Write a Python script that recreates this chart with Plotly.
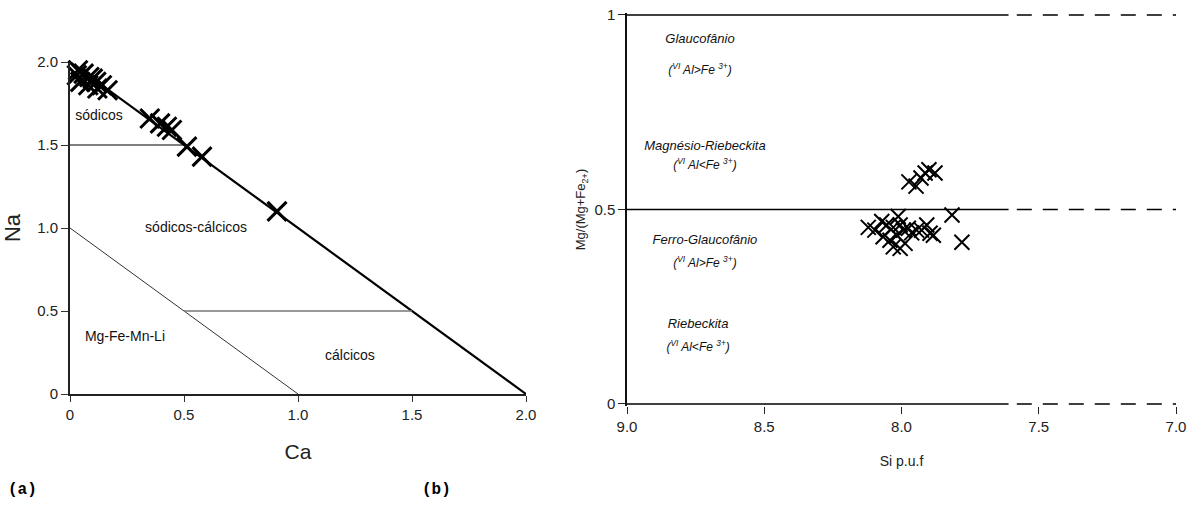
import plotly.graph_objects as go

W, H = 1197, 509

# ---- (a) Na vs Ca classification ----
ca_pts = [0.035, 0.06, 0.085, 0.115, 0.14, 0.165, 0.045, 0.08, 0.12, 0.03, 0.10,
          0.35, 0.395, 0.425, 0.447, 0.513, 0.579, 0.908]
na_pts = [1.95, 1.93, 1.91, 1.88, 1.86, 1.83, 1.88, 1.86, 1.84, 1.92, 1.90,
          1.66, 1.63, 1.61, 1.59, 1.49, 1.43, 1.10]

# field boundaries (Ca, Na)
diag_ca, diag_na = [0, 2], [2, 0]
sod_ca, sod_na = [0, 0.5], [1.5, 1.5]
mg_ca, mg_na = [0, 1], [1, 0]
calc_ca, calc_na = [0.5, 1.5], [0.5, 0.5]

field_names_a = ["sódicos", "sódicos-cálcicos", "Mg-Fe-Mn-Li", "cálcicos"]
field_ca = [0.127, 0.553, 0.241, 1.228]
field_na = [1.67, 1.00, 0.343, 0.223]

ticks_a = [0, 0.5, 1.0, 1.5, 2.0]
ticklab_a = ["0", "0.5", "1.0", "1.5", "2.0"]

# ---- (b) Mg/(Mg+Fe2+) vs Si ----
si_pts = [7.973, 7.947, 7.929, 7.914, 7.900, 7.878, 7.816, 7.780,
          8.121, 8.097, 8.072, 8.054, 8.030, 8.012, 8.005, 7.993, 7.975, 7.963,
          7.945, 7.908, 7.896, 7.884, 8.042, 8.030, 8.005, 7.987, 8.067, 8.017, 7.927]
mg_pts = [0.571, 0.560, 0.581, 0.594, 0.602, 0.594, 0.486, 0.416,
          0.454, 0.447, 0.469, 0.460, 0.454, 0.482, 0.460, 0.447, 0.452, 0.440,
          0.447, 0.460, 0.439, 0.434, 0.421, 0.404, 0.400, 0.413, 0.430, 0.434, 0.447]

levels_b = [0, 0.5, 1.0]
solid_si = [9.0, 7.61]
dash_si = [7.58, 7.0]

names_b = ["Glaucofânio", "Magnésio-Riebeckita", "Ferro-Glaucofânio", "Riebeckita"]
names_si = [8.734, 8.716, 8.716, 8.741]
names_mg = [0.936, 0.661, 0.419, 0.203]
cond_b = ["(<sup>VI</sup> Al>Fe <sup>3+</sup>)", "(<sup>VI</sup> Al<Fe <sup>3+</sup>)",
          "(<sup>VI</sup> Al>Fe <sup>3+</sup>)", "(<sup>VI</sup> Al<Fe <sup>3+</sup>)"]
cond_mg = [0.856, 0.612, 0.360, 0.144]

ticks_bx = [9.0, 8.5, 8.0, 7.5, 7.0]
ticklab_bx = ["9.0", "8.5", "8.0", "7.5", "7.0"]
ticks_by = [0, 0.5, 1]
ticklab_by = ["0", "0.5", "1"]

NARROW = "Liberation Sans Narrow, Arial Narrow, Liberation Sans, Arial, sans-serif"
SANS = "Liberation Sans, Arial, sans-serif"


def xdom(p0, p1, v0, v1, r0, r1):
    k = (p1 - p0) / (v1 - v0)
    return [(p0 + (r0 - v0) * k) / W, (p0 + (r1 - v0) * k) / W]


def ydom(p0, p1, v0, v1, r0, r1):
    # p0: pixel of v0 (bottom), p1: pixel of v1 (top)
    k = (p1 - p0) / (v1 - v0)
    return [(H - (p0 + (r0 - v0) * k)) / H, (H - (p0 + (r1 - v0) * k)) / H]


fig = go.Figure()

for xs, ys, w, c in [(diag_ca, diag_na, 2.2, "black"), (sod_ca, sod_na, 1, "black"),
                     (mg_ca, mg_na, 1, "#333"), (calc_ca, calc_na, 1.4, "#777")]:
    fig.add_trace(go.Scatter(x=xs, y=ys, mode="lines", line=dict(color=c, width=w),
                             xaxis="x", yaxis="y", showlegend=False, hoverinfo="skip"))

fig.add_trace(go.Scatter(x=ca_pts, y=na_pts, mode="markers", xaxis="x", yaxis="y",
                         marker=dict(symbol="x-thin", size=19,
                                     line=dict(color="black", width=3)),
                         cliponaxis=False, showlegend=False))

fig.add_trace(go.Scatter(x=field_ca, y=field_na, mode="text", text=field_names_a,
                         textfont=dict(family=SANS, size=14, color="#111"),
                         xaxis="x", yaxis="y", showlegend=False, hoverinfo="skip"))

for lv in levels_b:
    fig.add_trace(go.Scatter(x=solid_si, y=[lv, lv], mode="lines",
                             line=dict(color="black", width=1.5),
                             xaxis="x2", yaxis="y2", showlegend=False, hoverinfo="skip"))
    fig.add_trace(go.Scatter(x=dash_si, y=[lv, lv], mode="lines",
                             line=dict(color="black", width=1.5, dash="15px,11px"),
                             xaxis="x2", yaxis="y2", showlegend=False, hoverinfo="skip"))

fig.add_trace(go.Scatter(x=si_pts, y=mg_pts, mode="markers", xaxis="x2", yaxis="y2",
                         marker=dict(symbol="x-thin", size=15,
                                     line=dict(color="black", width=2)),
                         cliponaxis=False, showlegend=False))

fig.add_trace(go.Scatter(x=names_si, y=names_mg, mode="text", text=names_b,
                         textfont=dict(family=SANS, size=13, color="#111", style="italic"),
                         xaxis="x2", yaxis="y2", showlegend=False, hoverinfo="skip"))
fig.add_trace(go.Scatter(x=names_si, y=cond_mg, mode="text", text=cond_b,
                         textfont=dict(family=SANS, size=12, color="#111", style="italic"),
                         xaxis="x2", yaxis="y2", showlegend=False, hoverinfo="skip"))

axis_font = dict(family=NARROW, size=15, color="#222")

fig.update_layout(
    width=W, height=H, margin=dict(l=0, r=0, t=0, b=0, autoexpand=False),
    paper_bgcolor="white", plot_bgcolor="white",
    xaxis=dict(domain=xdom(70, 526, 0, 2, 0, 2), range=[0, 2], automargin=False,
               tickvals=ticks_a, ticktext=ticklab_a, ticks="outside", ticklen=6,
               tickwidth=1, tickcolor="#333", showline=True, linewidth=2, linecolor="#222",
               showgrid=False, zeroline=False, tickfont=axis_font,
               title=dict(text="Ca", font=dict(family=NARROW, size=21, color="#222"),
                          standoff=22), anchor="y"),
    yaxis=dict(domain=ydom(394, 62, 0, 2, 0, 2), range=[0, 2], automargin=False,
               tickvals=ticks_a, ticktext=ticklab_a, ticks="outside", ticklen=7,
               tickwidth=1, tickcolor="#333", showline=True, linewidth=2, linecolor="#222",
               showgrid=False, zeroline=False, tickfont=axis_font,
               title=dict(text="Na", font=dict(family=NARROW, size=22, color="#222"),
                          standoff=14), anchor="x"),
    xaxis2=dict(domain=xdom(627, 1176, 9.0, 7.0, 9.0, 7.0), range=[9.0, 7.0],
                automargin=False,
                tickvals=ticks_bx, ticktext=ticklab_bx, ticks="outside", ticklen=7,
                tickwidth=1, tickcolor="#222", showline=False, showgrid=False,
                zeroline=False, tickfont=axis_font,
                title=dict(text="Si p.u.f", font=dict(family=NARROW, size=14, color="#222"),
                           standoff=22), anchor="y2"),
    yaxis2=dict(domain=ydom(404, 15, 0, 1, -0.005, 1.005), range=[-0.005, 1.005],
                automargin=False,
                tickvals=ticks_by, ticktext=ticklab_by, ticks="outside", ticklen=7,
                tickwidth=1, tickcolor="#222", showline=True, linewidth=1.5,
                linecolor="#111", showgrid=False, zeroline=False, tickfont=axis_font,
                title=dict(text="Mg/(Mg+Fe<sub>2+</sub>)",
                           font=dict(family=NARROW, size=13, color="#222"), standoff=6),
                anchor="x2"),
    annotations=[
        dict(text="<b>(a)</b>", x=22 / W, y=1 - 490 / H, xref="paper", yref="paper",
             showarrow=False, xanchor="center", yanchor="middle",
             font=dict(family="Liberation Mono, Courier New, monospace", size=16, color="black")),
        dict(text="<b>(b)</b>", x=436 / W, y=1 - 490 / H, xref="paper", yref="paper",
             showarrow=False, xanchor="center", yanchor="middle",
             font=dict(family="Liberation Mono, Courier New, monospace", size=16, color="black")),
    ],
)

fig.write_html("out.html")
